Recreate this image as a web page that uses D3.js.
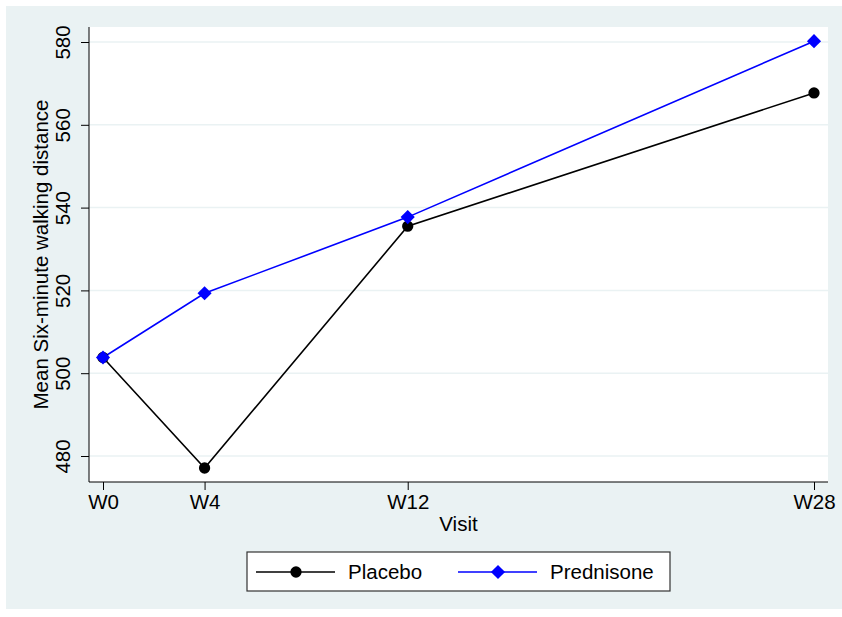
<!DOCTYPE html>
<html>
<head>
<meta charset="utf-8">
<style>
body { margin: 0; background: #fff; }
text { font-family: "Liberation Sans", Arial, sans-serif; fill: #000; }
</style>
</head>
<body>
<svg width="842" height="617"></svg>
<script src="https://d3js.org/d3.v7.min.js"></script>
<script>
var visits = ["W0", "W4", "W12", "W28"];
var weeks = [0, 4, 12, 28];
var placebo = [503.8, 477.1, 535.5, 567.7];
var prednisone = [503.8, 519.3, 537.7, 580.2];
var yTicks = [480, 500, 520, 540, 560, 580];

var fs = 20.5;
var svg = d3.select("svg");

// outer graph region
svg.append("rect")
    .attr("x", 6).attr("y", 6)
    .attr("width", 836).attr("height", 603)
    .attr("fill", "#eaf2f3");

var plot = { left: 89, top: 27, right: 828, bottom: 482 };

svg.append("rect")
    .attr("x", plot.left).attr("y", plot.top)
    .attr("width", plot.right - plot.left)
    .attr("height", plot.bottom - plot.top)
    .attr("fill", "#fff");

var x = d3.scaleLinear().domain([0, 28]).range([103, 814]);
var y = d3.scaleLinear().domain([480, 580]).range([456, 42]);

// grid
svg.append("g").selectAll("line")
    .data(yTicks)
    .enter().append("line")
      .attr("x1", plot.left).attr("x2", plot.right)
      .attr("y1", function(d) { return y(d); })
      .attr("y2", function(d) { return y(d); })
      .attr("stroke", "#eaf2f3")
      .attr("stroke-width", 1.5);

// y axis
var yAxis = svg.append("g")
    .attr("transform", "translate(" + plot.left + ",0)")
    .call(d3.axisLeft(y).tickValues(yTicks).tickSize(8).tickPadding(4));
yAxis.select(".domain").attr("d", "M0," + plot.top + "V" + plot.bottom)
    .attr("stroke", "#000");
yAxis.selectAll(".tick line").attr("stroke", "#000");
yAxis.selectAll(".tick text")
    .attr("font-size", fs)
    .attr("font-family", "Liberation Sans, Arial, sans-serif")
    .attr("text-anchor", "middle")
    .attr("dy", null)
    .attr("transform", "translate(-19,0) rotate(-90)")
    .attr("x", 0).attr("y", 0);

// x axis
var xAxis = svg.append("g")
    .attr("transform", "translate(0," + plot.bottom + ")")
    .call(d3.axisBottom(x).tickValues(weeks)
      .tickFormat(function(d, i) { return visits[i]; })
      .tickSize(8).tickPadding(4));
xAxis.select(".domain").attr("d", "M" + plot.left + ",0H" + plot.right)
    .attr("stroke", "#000");
xAxis.selectAll(".tick line").attr("stroke", "#000");
xAxis.selectAll(".tick text")
    .attr("font-size", fs)
    .attr("font-family", "Liberation Sans, Arial, sans-serif");

// titles
svg.append("text")
    .attr("transform", "translate(48," + ((plot.top + plot.bottom) / 2) + ") rotate(-90)")
    .attr("text-anchor", "middle")
    .attr("font-size", fs)
    .text("Mean Six-minute walking distance");

svg.append("text")
    .attr("x", (plot.left + plot.right) / 2)
    .attr("y", 531)
    .attr("text-anchor", "middle")
    .attr("font-size", fs)
    .text("Visit");

// series
var line = d3.line()
    .x(function(d, i) { return x(weeks[i]); })
    .y(function(d) { return y(d); });

svg.append("path")
    .datum(placebo)
    .attr("fill", "none")
    .attr("stroke", "#000")
    .attr("stroke-width", 1.6)
    .attr("d", line);

svg.append("path")
    .datum(prednisone)
    .attr("fill", "none")
    .attr("stroke", "#0000ff")
    .attr("stroke-width", 1.6)
    .attr("d", line);

var circle = d3.symbol().type(d3.symbolCircle).size(100);
var diamond = d3.symbol().type(d3.symbolSquare).size(100);

svg.append("g").selectAll("path")
    .data(placebo)
    .enter().append("path")
      .attr("d", circle)
      .attr("transform", function(d, i) { return "translate(" + x(weeks[i]) + "," + y(d) + ")"; })
      .attr("fill", "#000");

svg.append("g").selectAll("path")
    .data(prednisone)
    .enter().append("path")
      .attr("d", diamond)
      .attr("transform", function(d, i) { return "translate(" + x(weeks[i]) + "," + y(d) + ") rotate(45)"; })
      .attr("fill", "#0000ff");

// legend
var lg = svg.append("g");
lg.append("rect")
    .attr("x", 247).attr("y", 552)
    .attr("width", 423).attr("height", 39)
    .attr("fill", "#fff")
    .attr("stroke", "#333")
    .attr("stroke-width", 1.2);

var legendItems = [
  { name: "Placebo", color: "#000", sym: circle, rot: 0, x0: 256 },
  { name: "Prednisone", color: "#0000ff", sym: diamond, rot: 45, x0: 458 }
];
legendItems.forEach(function(d) {
  lg.append("line")
    .attr("x1", d.x0).attr("x2", d.x0 + 79)
    .attr("y1", 572).attr("y2", 572)
    .attr("stroke", d.color).attr("stroke-width", 1.6);
  lg.append("path")
    .attr("d", d.sym)
    .attr("transform", "translate(" + (d.x0 + 40) + ",572) rotate(" + d.rot + ")")
    .attr("fill", d.color);
  lg.append("text")
    .attr("x", d.x0 + 92).attr("y", 579)
    .attr("font-size", fs)
    .text(d.name);
});
</script>
</body>
</html>
